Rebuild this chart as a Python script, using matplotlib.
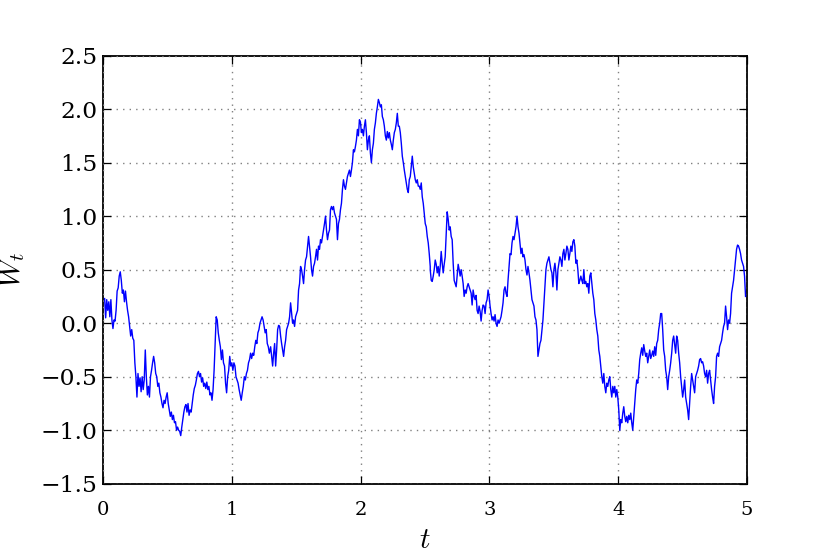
import numpy as np
import matplotlib
matplotlib.use("Agg")
import matplotlib.pyplot as plt

plt.rcParams['mathtext.fontset'] = 'cm'
plt.rcParams['font.family'] = ['DejaVu Serif']

# Path values, in four consecutive pieces
w_part1 = [0.23,0.05,0.22,0.12,0.20,0.06,0.22,0.03,-0.05,0.03,
0.02,0.12,0.30,0.33,0.44,0.48,0.40,0.28,0.31,0.20,
0.30,0.20,0.12,0.06,-0.03,-0.12,-0.06,-0.14,-0.16,-0.37,
-0.50,-0.69,-0.47,-0.59,-0.51,-0.64,-0.50,-0.62,-0.53,-0.25,
-0.50,-0.67,-0.59,-0.69,-0.50,-0.44,-0.37,-0.31,-0.37,-0.47,
-0.50,-0.59,-0.56,-0.65,-0.69,-0.75,-0.79,-0.72,-0.75,-0.69,
-0.65,-0.75,-0.81,-0.87,-0.83,-0.90,-0.86,-0.93,-0.92,-1.00,
-0.97,-1.00,-1.01,-1.05,-0.97,-0.90,-0.83,-0.78,-0.76,-0.83,
-0.75,-0.86,-0.81,-0.83,-0.75,-0.67,-0.61,-0.58,-0.53,-0.47,
-0.45,-0.50,-0.47,-0.55,-0.51,-0.59,-0.56,-0.61,-0.55,-0.62,
-0.59,-0.67,-0.65,-0.72,-0.62,-0.44,-0.19,0.06,0.03,-0.09,
-0.16,-0.22,-0.34,-0.25,-0.37,-0.40,-0.56,-0.65,-0.50,-0.44,
-0.31,-0.40,-0.37,-0.44,-0.37,-0.40,-0.50,-0.53,-0.56,-0.62,
-0.67,-0.72,-0.65,-0.59,-0.50,-0.53,-0.47,-0.44,-0.37,-0.34,
-0.28,-0.33,-0.28,-0.30,-0.22,-0.16,-0.19,-0.09,-0.06,0.00,
0.03,0.06,0.03,-0.03,-0.09,-0.06,-0.19,-0.22,-0.28]

w_part2 = [-0.22,-0.31,-0.40,-0.28,-0.19,-0.40,-0.25,-0.06,-0.02,-0.03,
-0.12,-0.19,-0.25,-0.31,-0.22,-0.16,-0.06,-0.03,0.00,0.06,
0.19,0.09,0.00,0.03,-0.03,0.06,0.09,0.12,0.31,0.37,
0.53,0.50,0.44,0.37,0.50,0.59,0.62,0.72,0.81,0.72,
0.62,0.50,0.44,0.53,0.56,0.62,0.69,0.59,0.72,0.69,
0.78,0.75,0.81,0.87,0.93,1.00,0.87,0.78,0.84,0.87,
1.06,1.09,1.06,1.09,1.03,1.00,0.97,0.78,0.93,0.97,
1.06,1.12,1.25,1.34,1.28,1.25,1.31,1.37,1.40,1.43,
1.37,1.43,1.50,1.62,1.60,1.65,1.71,1.81,1.75,1.90,
1.88,1.78,1.81,1.75,1.84,1.90,1.78,1.62,1.71,1.75,
1.59,1.50,1.62,1.68,1.81,1.87,1.96,2.02,2.09,2.06,
2.02,2.04,1.93,1.90,1.84,1.75,1.71,1.79,1.73,1.78,
1.71,1.67,1.62,1.71,1.78,1.81,1.87,1.96,1.84,1.84,
1.78,1.68,1.56,1.50,1.43,1.37,1.31,1.25,1.22,1.34,
1.37,1.46,1.56,1.46,1.40,1.34,1.31,1.34,1.28,1.28,
1.25,1.31,1.18,1.12,1.03,0.93,0.90,0.81,0.75,0.65,
0.53]

w_part3 = [0.50,0.40,0.39,0.44,0.50,0.59,0.55,0.47,0.53,0.44,
0.53,0.67,0.56,0.47,0.55,0.62,0.84,1.04,0.97,0.87,
0.90,0.81,0.78,0.56,0.40,0.37,0.34,0.44,0.55,0.50,
0.44,0.50,0.44,0.37,0.25,0.31,0.28,0.34,0.37,0.34,
0.31,0.28,0.17,0.31,0.25,0.22,0.26,0.12,0.09,0.16,
0.11,0.02,0.12,0.17,0.16,0.09,0.19,0.22,0.31,0.25,
0.16,0.09,0.03,0.06,0.02,0.08,0.00,-0.03,0.03,0.00,
0.03,0.06,0.12,0.19,0.31,0.34,0.28,0.25,0.40,0.53,
0.65,0.64,0.75,0.81,0.78,0.84,0.90,1.00,0.90,0.84,
0.75,0.65,0.70,0.62,0.64,0.59,0.50,0.45,0.53,0.47,
0.40,0.31,0.22,0.19,0.16,0.06,0.03,-0.06,-0.31,-0.25,
-0.19,-0.16,-0.06,0.03,0.19,0.34,0.50,0.56,0.59,0.62,
0.56,0.50,0.47,0.34,0.50,0.56,0.47,0.31,0.50,0.56,
0.62,0.59,0.53,0.65,0.69,0.59,0.65,0.72,0.69,0.59,
0.65,0.72,0.67,0.76,0.78,0.72,0.56,0.59,0.50,0.37,
0.40,0.44,0.40,0.37,0.50,0.37,0.39,0.34,0.37,0.28,
0.44]

w_part4 = [0.44,0.47,0.37,0.28,0.22,0.09,0.03,-0.06,-0.12,-0.25,
-0.31,-0.40,-0.50,-0.56,-0.47,-0.59,-0.65,-0.56,-0.59,-0.53,
-0.50,-0.62,-0.69,-0.59,-0.65,-0.59,-0.69,-0.62,-0.69,-0.81,
-1.00,-0.90,-0.93,-0.84,-0.78,-0.87,-0.92,-0.87,-0.93,-0.86,
-0.90,-0.84,-0.93,-1.00,-0.87,-0.75,-0.62,-0.53,-0.56,-0.47,
-0.34,-0.28,-0.23,-0.30,-0.20,-0.26,-0.31,-0.28,-0.37,-0.31,
-0.25,-0.33,-0.30,-0.26,-0.31,-0.22,-0.30,-0.19,-0.16,-0.06,
0.00,0.09,0.09,-0.06,-0.25,-0.31,-0.44,-0.50,-0.62,-0.50,
-0.44,-0.37,-0.28,-0.16,-0.12,-0.20,-0.28,-0.12,-0.16,-0.28,
-0.37,-0.50,-0.59,-0.69,-0.62,-0.53,-0.69,-0.75,-0.81,-0.90,
-0.75,-0.59,-0.47,-0.53,-0.59,-0.65,-0.50,-0.47,-0.44,-0.40,
-0.34,-0.33,-0.37,-0.36,-0.40,-0.47,-0.50,-0.44,-0.56,-0.47,
-0.44,-0.53,-0.62,-0.69,-0.75,-0.59,-0.50,-0.31,-0.28,-0.31,
-0.22,-0.19,-0.16,-0.09,-0.03,0.00,0.16,0.06,-0.06,0.03,
0.00,0.09,0.28,0.34,0.40,0.50,0.59,0.69,0.73,0.72,
0.69,0.65,0.59,0.56,0.53,0.44,0.25]

# time span (start, end) covered by each piece
t_spans = [(0.01, 1.29), (1.30, 2.54), (2.54, 3.78), (3.78, 4.99)]

x_ticks = [0, 1, 2, 3, 4, 5]
x_labels = ['0', '1', '2', '3', '4', '5']
y_ticks = [-1.5, -1.0, -0.5, 0.0, 0.5, 1.0, 1.5, 2.0, 2.5]
y_labels = ['\u22121.5', '\u22121.0', '\u22120.5', '0.0', '0.5', '1.0', '1.5', '2.0', '2.5']

parts = [w_part1, w_part2, w_part3, w_part4]
t = np.concatenate([np.linspace(a, b, len(p)) for (a, b), p in zip(t_spans, parts)])
W = np.concatenate([np.array(p) for p in parts])

fig = plt.figure(figsize=(8.3, 5.54), dpi=100)
ax = fig.add_axes([0.1245, 0.1267, 0.7753, 0.7731])

ax.plot(t, W, color='#0000ff', linewidth=1.0, zorder=3)

ax.set_xlim(0, 5)
ax.set_ylim(-1.5, 2.5)
ax.set_xticks(x_ticks)
ax.set_xticklabels(x_labels)
ax.set_yticks(y_ticks)
ax.set_yticklabels(y_labels)

ax.grid(True, color='0.5', linestyle=(0, (1, 3.7)), linewidth=1.0)
ax.set_axisbelow(False)

for s in ax.spines.values():
    s.set_linewidth(1.3)
    s.set_color('black')

ax.tick_params(axis='both', which='major', direction='in', top=True, right=True,
               length=5.5, width=0.9, color='black')
ax.tick_params(axis='y', labelsize=16.8, pad=4.3)
ax.tick_params(axis='x', labelsize=14, pad=12.2)

ax.set_xlabel(r'$t$', fontsize=21)
ax.set_ylabel(r'$W_t$', fontsize=21)
ax.xaxis.set_label_coords(0.5, -0.099)
ax.yaxis.set_label_coords(-0.118, 0.5)

fig.savefig('out.png', dpi=100)
